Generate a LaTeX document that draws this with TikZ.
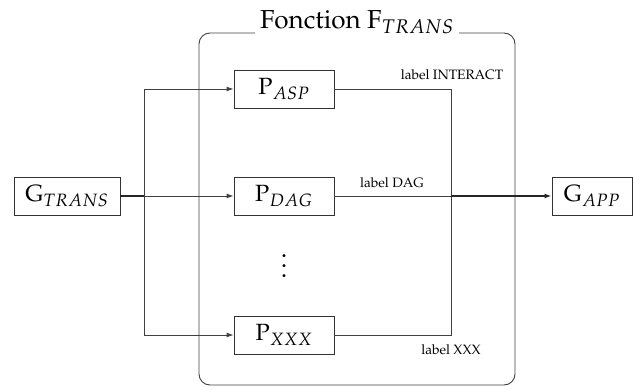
\documentclass[tikz,border=0pt]{standalone}
\usepackage[T1]{fontenc}
\usepackage{mathpazo}
\usepackage{graphicx}
\usetikzlibrary{arrows.meta}
\begin{document}
\begin{tikzpicture}[x=1pt,y=-1pt,
  line/.style={draw=black!75,line width=0.9pt},
  heavy/.style={draw=black!85,line width=1.8pt},
  tip/.style={-{Latex[length=7pt,width=5pt]}},
  blockbox/.style={draw=black!80,line width=0.9pt,minimum height=38pt,inner sep=0pt,
    font=\fontsize{23.5}{26}\selectfont},
  tag/.style={inner sep=0pt,font=\fontsize{13.6}{15}\selectfont}]
\useasboundingbox (0,0) rectangle (633,387);

% enclosing function frame
\draw[line,rounded corners=11pt] (199,33) rectangle (515,385);
\node[fill=white,inner xsep=5pt,inner ysep=2pt,font=\fontsize{26}{30}\selectfont] (title) at (357,22) {Fonction F$_{TRANS}$};

% blocks
\node[blockbox,minimum width=106pt] (gt) at (67,196) {G$_{TRANS}$};
\node[blockbox,minimum width=100pt] (pasp) at (284,89) {P$_{ASP}$};
\node[blockbox,minimum width=100pt] (pdag) at (284,196) {P$_{DAG}$};
\node[blockbox,minimum width=100pt] (pxxx) at (284,335) {P$_{XXX}$};
\node[blockbox,minimum width=80pt] (gapp) at (592,196) {G$_{APP}$};

% vertical ellipsis between the blocks (scaled so the dot spacing grows too)
\node[inner sep=0pt,anchor=base] (dots) at (284,278) {\scalebox{2.6}{$\vdots$}};

% routing points
\coordinate (split) at (144,196);
\coordinate (splitup) at (144,89);
\coordinate (splitdn) at (144,335);
\coordinate (mergeup) at (451,89);
\coordinate (merge) at (451,196);
\coordinate (mergedn) at (451,335);

% inputs
\draw[heavy] (gt.east) -- (split);
\draw[line,tip] (split) -- (pdag.west);
\draw[line] (splitup) -- (splitdn);
\draw[line,tip] (splitup) -- (pasp.west);
\draw[line,tip] (splitdn) -- (pxxx.west);

% outputs
\draw[line] (pasp.east) -- (mergeup) -- (mergedn) -- (pxxx.east);
\draw[line] (pdag.east) -- (merge);
\draw[heavy,tip] (merge) -- (gapp.west);

% labels
\node[tag] (lint) at (452,75) {label INTERACT};
\node[tag] (ldag) at (392,183) {label DAG};
\node[tag] (lxxx) at (451,350) {label XXX};
\end{tikzpicture}
\end{document}
